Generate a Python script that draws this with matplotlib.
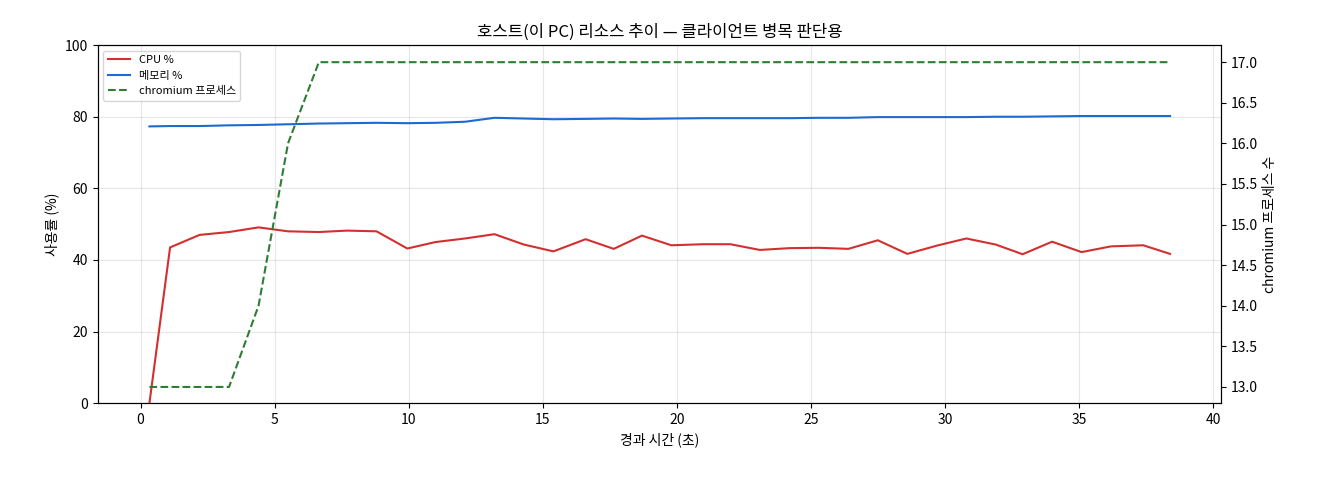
import matplotlib
matplotlib.use("Agg")
import matplotlib.pyplot as plt

plt.rcParams["font.family"] = ["Noto Sans CJK KR", "DejaVu Sans"]

elapsed = [0.33, 1.1, 2.2, 3.3, 4.4, 5.5, 6.65, 7.7, 8.8, 9.95, 11.0, 12.1, 13.2, 14.3,
           15.4, 16.6, 17.65, 18.7, 19.8, 21.0, 22.0, 23.1, 24.2, 25.3, 26.4, 27.5,
           28.6, 29.7, 30.8, 31.9, 32.9, 34.0, 35.1, 36.2, 37.4, 38.4]
cpu = [0, 43.5, 47, 47.8, 49.1, 48, 47.8, 48.2, 48, 43.2, 45, 46, 47.2, 44.3, 42.4,
       45.8, 43.1, 46.8, 44.1, 44.4, 44.4, 42.8, 43.3, 43.4, 43.1, 45.5, 41.7, 44,
       46, 44.3, 41.6, 45.1, 42.2, 43.8, 44.1, 41.7]
mem = [77.3, 77.4, 77.4, 77.6, 77.7, 77.9, 78.1, 78.2, 78.3, 78.2, 78.3, 78.6, 79.7,
       79.5, 79.3, 79.4, 79.5, 79.4, 79.5, 79.6, 79.6, 79.6, 79.6, 79.7, 79.7, 79.9,
       79.9, 79.9, 79.9, 80.0, 80.0, 80.1, 80.2, 80.2, 80.2, 80.2]
procs = [13, 13, 13, 13, 14, 16, 17, 17, 17, 17, 17, 17, 17, 17, 17, 17, 17, 17,
         17, 17, 17, 17, 17, 17, 17, 17, 17, 17, 17, 17, 17, 17, 17, 17, 17, 17]

fig, ax = plt.subplots(figsize=(13.2, 4.8), dpi=100)
l1, = ax.plot(elapsed, cpu, color="#d32f2f", lw=1.5, label="CPU %")
l2, = ax.plot(elapsed, mem, color="#1e6ad0", lw=1.5, label="메모리 %")
ax.set_ylim(0, 100)
ax.set_xlim(-1.6, 40.3)
ax.set_xlabel("경과 시간 (초)")
ax.set_ylabel("사용률 (%)")
ax.grid(alpha=0.3)

ax2 = ax.twinx()
l3, = ax2.plot(elapsed, procs, color="#2e7d32", lw=1.5, ls="--", label="chromium 프로세스")
ax2.set_ylim(12.8, 17.21)
ax2.set_ylabel("chromium 프로세스 수")

ax.legend(handles=[l1, l2, l3], loc="upper left", fontsize=8)
ax.set_title("호스트(이 PC) 리소스 추이 — 클라이언트 병목 판단용")

fig.subplots_adjust(left=0.074, right=0.925, top=0.906, bottom=0.16)
fig.savefig("out.png")
